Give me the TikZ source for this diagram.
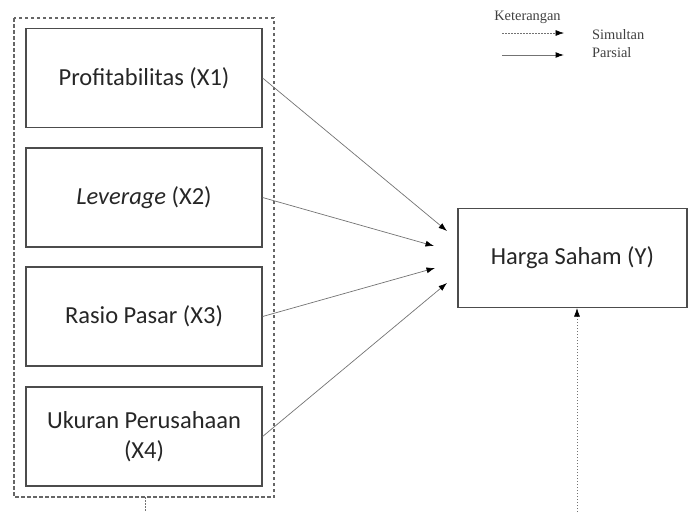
\documentclass[tikz,border=0pt]{standalone}
\usepackage{fontspec}
\setmainfont{Carlito}
\newfontfamily\legendfont{Liberation Serif}
\usetikzlibrary{arrows.meta}
\begin{document}
\begin{tikzpicture}[x=1pt,y=-1pt,
  varbox/.style={draw=black!70,line width=1.2pt,minimum width=236pt,minimum height=99pt,inner sep=0pt,font=\fontsize{24.5}{30}\selectfont,align=center,text=black!85},
  conn/.style={draw=black!55,line width=0.7pt,-{Latex[length=8.5pt,width=6pt,black]}},
  sim/.style={draw=black!55,line width=0.6pt,dash pattern=on 1.5pt off 1.5pt,-{Latex[length=8.5pt,width=6pt,black]}},
  lgd/.style={font=\legendfont\fontsize{14.4}{16}\selectfont,text=black!75,inner sep=0pt}]
\useasboundingbox (0,0) rectangle (688,512);
\draw[draw=black!60,line width=1.2pt,dash pattern=on 3.5pt off 2.5pt] (14,18) rectangle (274,497);
\node[varbox] (x1) at (144,78) {Profitabilitas (X1)};
\node[varbox] (x2) at (144,197.5) {\textit{Leverage} (X2)};
\node[varbox] (x3) at (144,316.5) {Rasio Pasar (X3)};
\node[varbox] (x4) at (144,436.5) {Ukuran Perusahaan\\(X4)};
\node[varbox,minimum width=229pt] (y) at (572.5,258) {Harga Saham (Y)};
\coordinate (t1) at (447,231);
\coordinate (t2) at (434,246);
\coordinate (t3) at (435,268);
\coordinate (t4) at (447,283);
\draw[conn] (x1.east) -- (t1);
\draw[conn] (x2.east) -- (t2);
\draw[conn] (x3.east) -- (t3);
\draw[conn] (x4.east) -- (t4);
\coordinate (b1) at (145,497);
\coordinate (b1e) at (145,512);
\coordinate (b2) at (577,512);
\draw[sim,-] (b1) -- (b1e);
\draw[sim] (b2) -- (y.south -| b2);
% legend
\node[lgd] (ket) at (527.5,17) {Keterangan};
\coordinate (l1a) at (502,33);
\coordinate (l1b) at (564,33);
\coordinate (l2a) at (502,55);
\coordinate (l2b) at (564,55);
\draw[sim] (l1a) -- (l1b);
\draw[conn,line width=1pt] (l2a) -- (l2b);
\node[lgd,anchor=west] (simt) at (592,35) {Simultan};
\node[lgd,anchor=west] (pars) at (592,53) {Parsial};
\end{tikzpicture}
\end{document}
